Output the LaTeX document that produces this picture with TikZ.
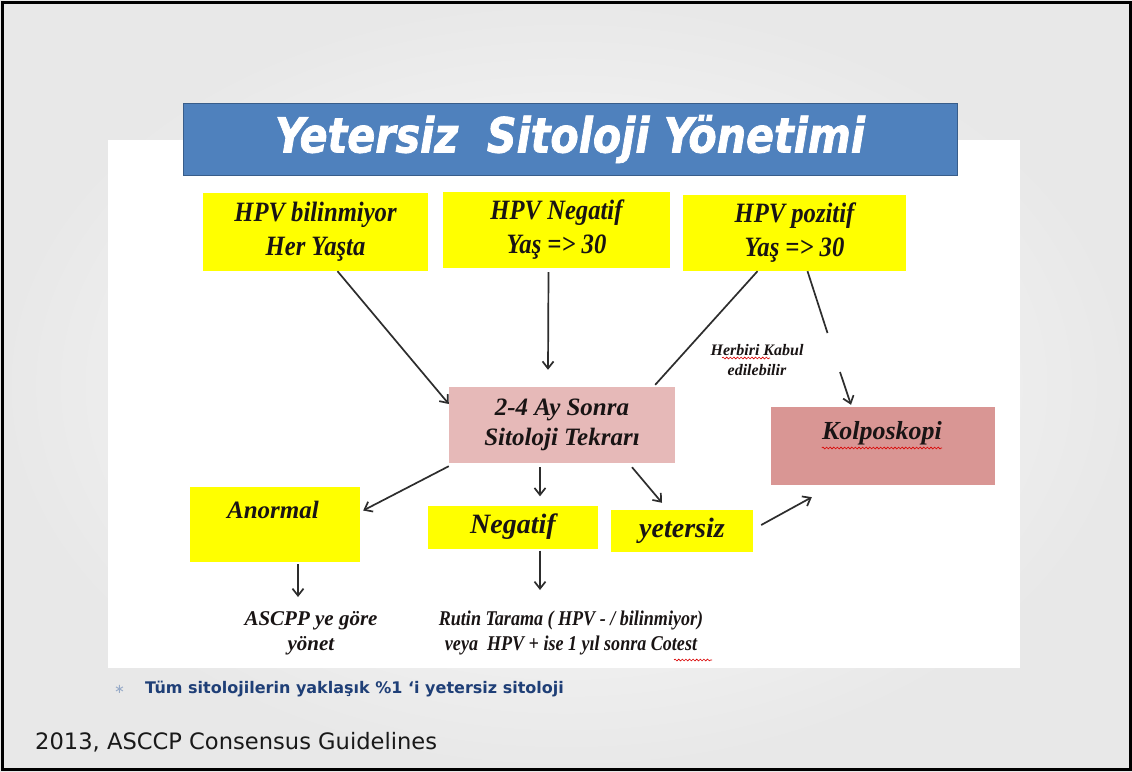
\documentclass[tikz,border=0pt]{standalone}
\usepackage{fontspec}
\setmainfont{Liberation Serif}
\newfontfamily\boxf[FakeStretch=0.88]{Liberation Serif}
\newfontfamily\narf[FakeStretch=0.86]{Liberation Serif}
\newfontfamily\titlef[FakeStretch=0.85,FakeBold=1.5]{DejaVu Sans}
\newfontfamily\footf{DejaVu Sans}
\usetikzlibrary{arrows.meta,decorations.pathmorphing}
\definecolor{titleblue}{RGB}{79,129,189}
\definecolor{titleedge}{RGB}{56,93,138}
\definecolor{boxyellow}{RGB}{255,255,0}
\definecolor{lightpink}{RGB}{230,185,184}
\definecolor{darkpink}{RGB}{217,150,148}
\definecolor{linegray}{RGB}{45,45,45}
\definecolor{txt}{RGB}{25,20,20}
\definecolor{navy}{RGB}{31,63,119}
\definecolor{bulletc}{RGB}{150,170,200}
\begin{document}
\begin{tikzpicture}[x=1pt,y=-1pt,
  boxbase/.style={draw=none, inner sep=0pt, align=center, text=txt},
  ybox/.style={boxbase, fill=boxyellow, font=\boxf\bfseries\itshape\fontsize{28}{34}\selectfont},
  pbox/.style={boxbase, fill=lightpink, font=\bfseries\itshape\fontsize{25}{30}\selectfont},
  kbox/.style={boxbase, fill=darkpink},
  lbl/.style={inner sep=0pt, align=center, text=txt},
  conn/.style={draw=linegray, line width=1.7pt},
  arr/.style={conn, -{Straight Barb[length=7pt,width=11pt,line width=1.7pt]}},
  wavy/.style={draw=red!85!black, line width=0.6pt, decorate, decoration={snake, amplitude=0.9pt, segment length=3.6pt}}
]
\useasboundingbox (0,0) rectangle (1132,771);
% slide background
\shade[inner color=white, outer color=black!9] (0,0) rectangle (1132,771);
\fill[white] (108,140) rectangle (1020,668);
\draw[black, line width=3pt] (2,2) rectangle (1130,769);

% title
\node[draw=titleedge, line width=0.8pt, fill=titleblue, minimum width=774pt, minimum height=72pt, inner sep=0pt,
      text=white, font=\titlef\bfseries\itshape\fontsize{48.5}{52}\selectfont] (title) at (570,139) {Yetersiz~ Sitoloji Yönetimi};

% top boxes
\node[ybox, minimum width=225pt, minimum height=78pt] (b1) at (315.5,232) {HPV bilinmiyor\\Her Yaşta};
\node[ybox, minimum width=227pt, minimum height=76pt] (b2) at (556.5,230) {HPV Negatif\\Yaş => 30};
\node[ybox, minimum width=223pt, minimum height=76pt] (b3) at (794.5,233) {HPV pozitif\\Yaş => 30};

% middle
\node[pbox, minimum width=226pt, minimum height=76pt] (tekrar) at (562,425) {2-4 Ay Sonra\\Sitoloji Tekrarı};
\node[kbox, minimum width=224pt, minimum height=78pt] (kolpo) at (883,446) {};
\node[lbl, font=\bfseries\itshape\fontsize{26}{30}\selectfont] (kolt) at (882,433) {Kolposkopi};

% lower boxes
\node[boxbase, fill=boxyellow, minimum width=170pt, minimum height=75pt] (anormal) at (275,524.5) {};
\node[lbl, font=\bfseries\itshape\fontsize{25}{30}\selectfont] (anot) at (273,510) {Anormal};
\node[ybox, font=\bfseries\itshape\fontsize{28}{32}\selectfont, minimum width=170pt, minimum height=43pt] (negatif) at (513,527) {Negatif};
\node[ybox, font=\bfseries\itshape\fontsize{28}{32}\selectfont, minimum width=142pt, minimum height=42pt] (yetersiz) at (682,531) {yetersiz};

% bottom texts
\node[lbl, anchor=north, font=\bfseries\itshape\fontsize{21}{25}\selectfont] (asc) at (311,611) {ASCPP ye göre\\yönet};
\node[lbl, anchor=north, font=\narf\bfseries\itshape\fontsize{21}{25}\selectfont] (rutin) at (571,611) {Rutin Tarama ( HPV - / bilinmiyor)\\veya~ HPV + ise 1 yıl sonra Cotest};

% label
\node[lbl, font=\bfseries\itshape\fontsize{16}{20}\selectfont] (herb) at (757,360) {Herbiri Kabul\\edilebilir};

% connectors
\draw[arr] ([xshift=22pt]b1.south) -- ([yshift=21pt]tekrar.west);
\draw[arr] ([xshift=-8pt,yshift=-4pt]b2.south) -- ([xshift=-14pt,yshift=17pt]tekrar.north);
\draw[conn] ([xshift=-37pt]b3.south) -- ([xshift=-20pt,yshift=2pt]tekrar.north east);
\coordinate (g1) at (827.5,333);
\coordinate (g2) at (840,372);
\draw[conn] ([xshift=13pt]b3.south) -- (g1);
\draw[arr] (g2) -- ([xshift=-32pt,yshift=2pt]kolpo.north);
\draw[arr] ([yshift=-3pt]tekrar.south west) -- ([xshift=3pt,yshift=14pt]anormal.east);
\draw[arr] ([xshift=-22pt,yshift=-4pt]tekrar.south) -- ([xshift=27pt,yshift=9pt]negatif.north);
\draw[arr] ([xshift=70pt,yshift=-4pt]tekrar.south) -- ([xshift=-20pt,yshift=7pt]yetersiz.north);
\draw[arr] ([xshift=8pt,yshift=6pt]yetersiz.east) -- ([xshift=41pt,yshift=-12pt]kolpo.south west);
\draw[arr] ([xshift=23pt,yshift=-2pt]anormal.south) -- ([xshift=-13pt,yshift=14pt]asc.north);
\draw[arr] ([xshift=27pt,yshift=-2pt]negatif.south) -- ([xshift=-31pt,yshift=21pt]rutin.north);

% spell-check underlines
\draw[wavy] (722,358) -- (770,358);
\draw[wavy] ([yshift=-3pt]kolt.south west) -- ([yshift=-3pt]kolt.south east);
\draw[wavy] (674,660) -- (712,660);

% footer
\node[inner sep=0pt, anchor=base west, text=bulletc, font=\footf\fontsize{13}{15}\selectfont] (bul) at (114,693) {∗};
\node[inner sep=0pt, anchor=base west, text=navy, font=\footf\bfseries\fontsize{16}{19}\selectfont] (note) at (145,693) {Tüm sitolojilerin yaklaşık \%1 ‘i yetersiz sitoloji};
\node[inner sep=0pt, anchor=base west, text=black!90, font=\footf\fontsize{22.6}{27}\selectfont] (guide) at (35,749) {2013, ASCCP Consensus Guidelines};
\end{tikzpicture}
\end{document}
